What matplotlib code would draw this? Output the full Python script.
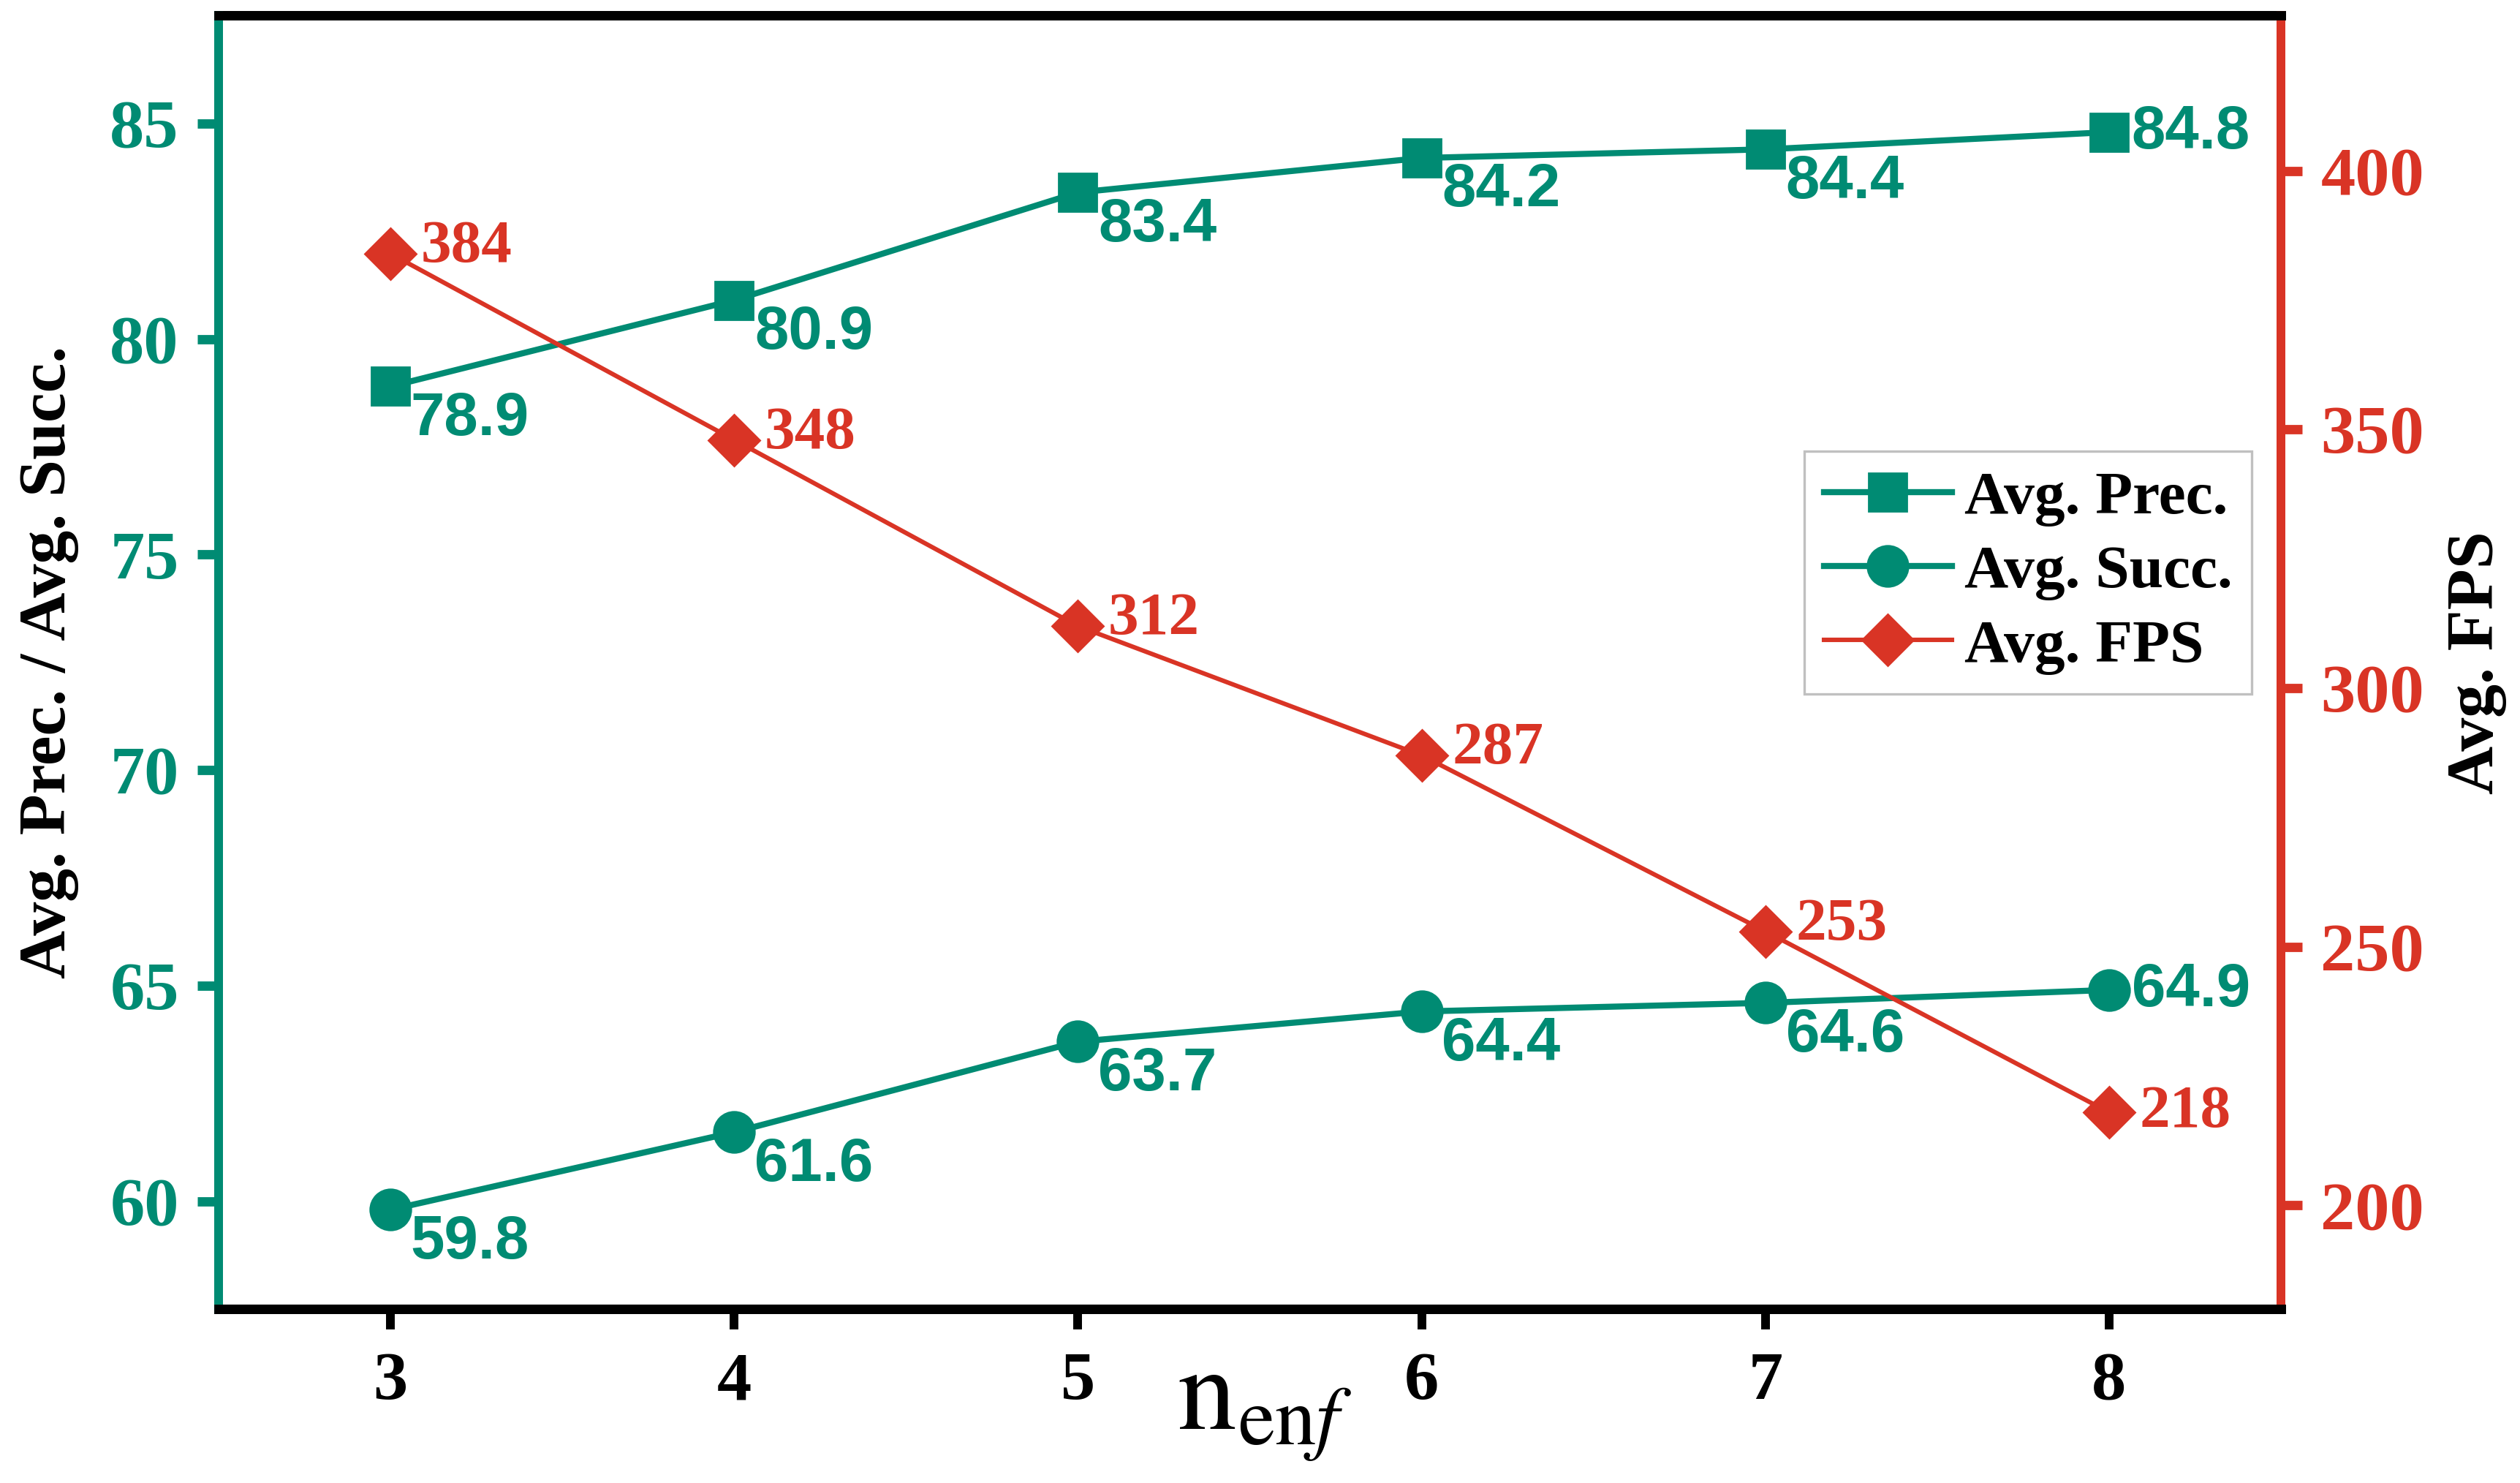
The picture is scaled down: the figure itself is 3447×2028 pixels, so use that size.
import matplotlib.pyplot as plt

plt.rcParams['font.family'] = ['Liberation Serif', 'DejaVu Serif']
plt.rcParams['mathtext.fontset'] = 'stix'

n_enf = [3, 4, 5, 6, 7, 8]
avg_prec = [78.9, 80.9, 83.4, 84.2, 84.4, 84.8]
avg_succ = [59.8, 61.6, 63.7, 64.4, 64.6, 64.9]
avg_fps = [384, 348, 312, 287, 253, 218]

teal = '#008B73'
red = '#D93425'
narrow = ['Liberation Sans Narrow', 'Liberation Sans', 'DejaVu Sans']

fig = plt.figure(figsize=(17.24, 10.14), dpi=200)
ax = fig.add_axes([0.0867, 0.1174, 0.9049 - 0.0867, 0.9894 - 0.1174])
ax2 = ax.twinx()

l1, = ax.plot(n_enf, avg_prec, color=teal, lw=3.0, marker='s', ms=18.5,
              label='Avg. Prec.')
l2, = ax.plot(n_enf, avg_succ, color=teal, lw=3.0, marker='o', ms=20,
              label='Avg. Succ.')
l3, = ax2.plot(n_enf, avg_fps, color=red, lw=2.2, marker='D', ms=18,
               label='Avg. FPS')

# value labels
for vals in (avg_prec, avg_succ):
    for i, (x, v) in enumerate(zip(n_enf, vals)):
        off = (11, 0) if i == len(vals) - 1 else (10, -16)
        ax.annotate('{:.1f}'.format(v), (x, v), xytext=off,
                    textcoords='offset points', ha='left', va='center',
                    color=teal, fontsize=30, fontweight='bold', family=narrow)
for i, (x, v) in enumerate(zip(n_enf, avg_fps)):
    off = (15, 0) if i == len(avg_fps) - 1 else (15, 3)
    ax2.annotate(str(v), (x, v), xytext=off, textcoords='offset points',
                 ha='left', va='center', color=red, fontsize=30,
                 fontweight='bold')

ax.set_xlim(2.5, 8.5)
ax.set_ylim(57.5, 87.5)
ax2.set_ylim(180, 430)
ax.set_xticks(n_enf)
ax.set_yticks([60, 65, 70, 75, 80, 85])
ax2.set_yticks([200, 250, 300, 350, 400])

for lab in ax.get_xticklabels() + ax.get_yticklabels() + ax2.get_yticklabels():
    lab.set_fontweight('bold')
    lab.set_fontsize(34)

ax.tick_params(axis='x', direction='out', length=10, width=4.3,
               colors='black', pad=11)
ax.tick_params(axis='y', direction='out', length=10.5, width=4.6,
               colors=teal, pad=9)
ax2.tick_params(axis='y', direction='out', length=10.5, width=4.6,
                colors=red, pad=9)

for a in (ax, ax2):
    a.spines['top'].set_linewidth(4.6)
    a.spines['top'].set_color('black')
    a.spines['bottom'].set_linewidth(4.6)
    a.spines['bottom'].set_color('black')
    a.spines['left'].set_linewidth(4.3)
    a.spines['left'].set_color(teal)
    a.spines['right'].set_linewidth(4.3)
    a.spines['right'].set_color(red)

ax.set_xlabel(r'$\mathrm{n}_{\mathrm{en}f}$', fontsize=58, va='top')
ax.xaxis.set_label_coords(0.507, -0.037)
ax.set_ylabel('Avg. Prec. / Avg. Succ.', fontsize=33, fontweight='bold',
              color='black', va='center')
ax.yaxis.set_label_coords(-0.0822, 0.5)
ax2.set_ylabel('Avg. FPS', fontsize=33, fontweight='bold', color='black',
               va='center')
ax2.yaxis.set_label_coords(1.095, 0.5)

leg = ax2.legend(handles=[l1, l2, l3], loc='upper right',
                 bbox_to_anchor=(0.9858, 0.6633), borderaxespad=0,
                 prop={'weight': 'bold', 'size': 30}, fancybox=False,
                 edgecolor='#c0c0c0', framealpha=1, handlelength=2.1,
                 labelspacing=0.3, borderpad=0.32, handletextpad=0.2)
leg.get_frame().set_linewidth(1.2)

plt.savefig('out.png', dpi=200)
